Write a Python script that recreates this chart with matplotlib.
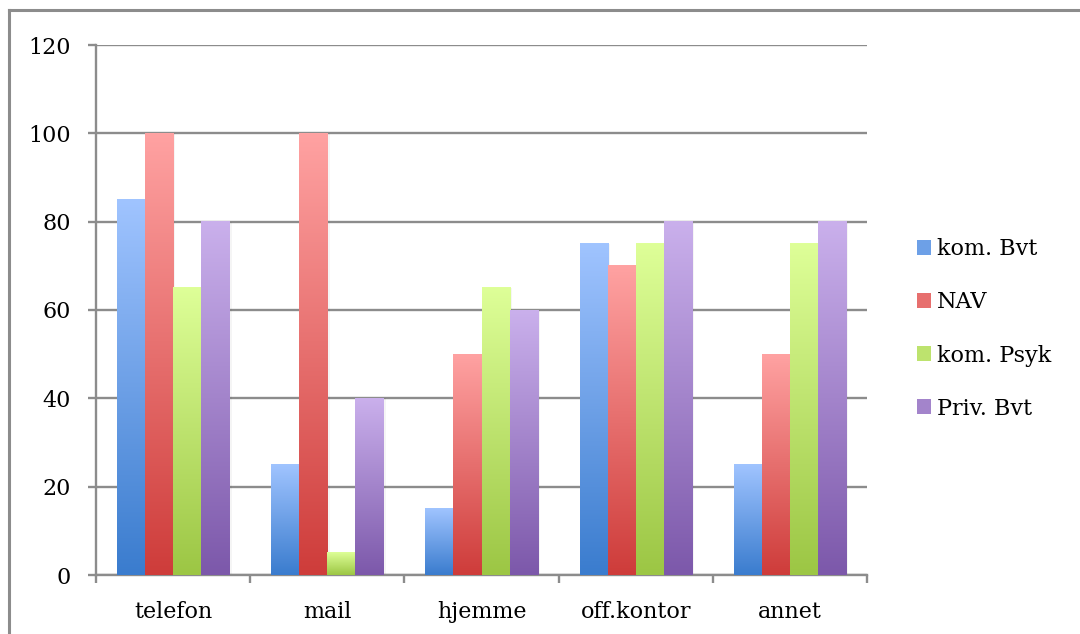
import numpy as np
import matplotlib
matplotlib.use("Agg")
import matplotlib.pyplot as plt
from matplotlib.lines import Line2D
from matplotlib.patches import Patch

categories = ["telefon", "mail", "hjemme", "off.kontor", "annet"]
series = ["kom. Bvt", "NAV", "kom. Psyk", "Priv. Bvt"]
kom_bvt = [85, 25, 15, 75, 25]
nav = [100, 100, 50, 70, 50]
kom_psyk = [65, 5, 65, 75, 75]
priv_bvt = [80, 40, 60, 80, 80]
values = [kom_bvt, nav, kom_psyk, priv_bvt]

# gradient colours per series: (top, bottom)
grad = [((160, 196, 255), (58, 124, 206)),
        ((255, 162, 162), (206, 60, 58)),
        ((222, 255, 152), (156, 198, 68)),
        ((202, 176, 236), (124, 88, 170))]

plt.rcParams['font.family'] = ['DejaVu Serif']
gray = '#8c8c8c'

fig = plt.figure(figsize=(10.8, 6.34), dpi=100)
ax = fig.add_axes([96/1080, 1 - 575/634, (867 - 96)/1080, (575 - 45)/634])

x = np.arange(len(categories))
w = 0.182
for i, vals in enumerate(values):
    top = np.array(grad[i][0]) / 255
    bot = np.array(grad[i][1]) / 255
    t = np.linspace(0, 1, 256)[:, None]
    img = (top[None, :] * (1 - t) + bot[None, :] * t)[:, None, :]
    xs = x + (i - 1.5) * w
    bars = ax.bar(xs, vals, w, color='none', zorder=3)
    for b in bars:
        x0 = b.get_x()
        h = b.get_height()
        # soft shadow to the right of each bar
        ax.fill_between([x0 + w, x0 + w + 0.015], 0, h, color='#000000',
                        alpha=0.04, lw=0, zorder=2)
        ax.imshow(img, extent=[x0, x0 + w, 0, h], aspect='auto',
                  origin='upper', zorder=3, interpolation='bilinear')

ax.set_xlim(-0.5, 4.5)
ax.set_ylim(0, 120)
ax.set_yticks(range(0, 121, 20))
ax.yaxis.grid(True, color=gray, lw=1.7, zorder=1)
ax.set_axisbelow(True)

ax.set_xticks(x)
ax.set_xticklabels(categories)
ax.set_xticks(np.arange(-0.5, 5, 1), minor=True)
ax.tick_params(axis='x', which='major', length=0, pad=19, labelsize=16)
ax.tick_params(axis='x', which='minor', length=6, width=1.7, color=gray,
               direction='out')
ax.tick_params(axis='y', length=6, width=1.7, color=gray, pad=12,
               labelsize=16)

for s in ['top', 'right']:
    ax.spines[s].set_visible(False)
for s in ['left', 'bottom']:
    ax.spines[s].set_color(gray)
    ax.spines[s].set_linewidth(1.7)

handles = [Patch(facecolor=tuple((np.array(g[0]) + np.array(g[1])) / 510),
                 edgecolor='none') for g in grad]
fig.legend(handles, series, loc='center left',
           bbox_to_anchor=(917/1080, 1 - 329/634), frameon=False,
           borderpad=0, borderaxespad=0,
           fontsize=16, handlelength=0.65, handleheight=0.65,
           handletextpad=0.25, labelspacing=1.4)

# outer chart frame (top and left edges)
fig.add_artist(Line2D([9/1080, 1], [1 - 10/634, 1 - 10/634], color=gray,
                      lw=2.2, transform=fig.transFigure))
fig.add_artist(Line2D([9/1080, 9/1080], [0, 1 - 10/634], color=gray,
                      lw=2.2, transform=fig.transFigure))

fig.savefig("out.png", dpi=100)
